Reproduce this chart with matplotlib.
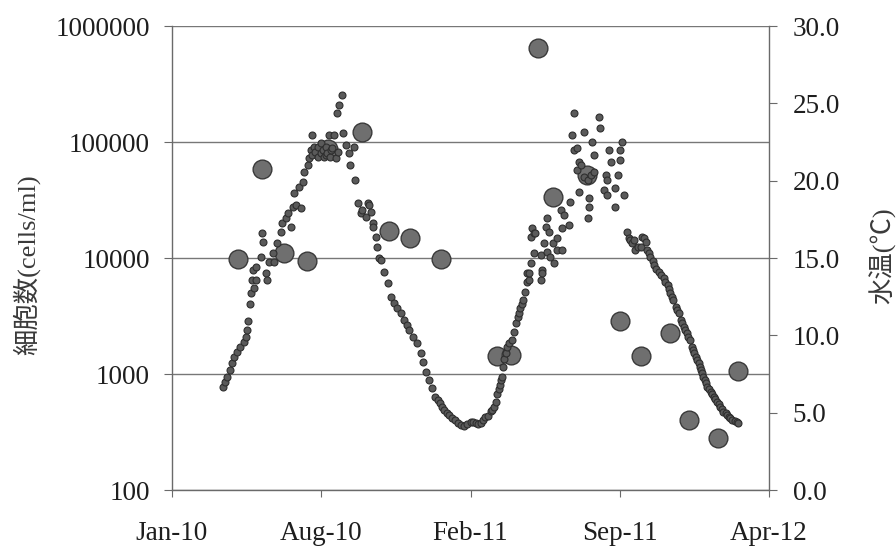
import numpy as np
import matplotlib
matplotlib.use("Agg")
import matplotlib.pyplot as plt
import matplotlib.dates as mdates
from matplotlib.ticker import NullLocator, FixedLocator

# ---------------- data ----------------
BASE_DATE = np.datetime64("2010-01-01")

# cell counts (large dots) : day offset from 2010-01-01, cells/ml
cell_day = [109, 142, 171, 202, 230, 276, 312, 340, 382,
            457, 475, 512, 531, 577, 621, 649, 688, 714, 752, 780]
cell_count = [9800, 58000, 11000, 9500, 87000, 121000, 17200, 14900, 9800,
              1440, 1450, 650000, 33700, 52000, 2860, 1440, 2240, 400, 280, 1060]

# water temperature (small dots) : day offset from 2010-01-01, deg C
temp_day = [
    89, 92, 95, 99, 101, 104, 108, 112, 117, 120,
    122, 123, 125, 127, 128, 129, 131, 133, 134, 140,
    142, 143, 147, 148, 151, 156, 158, 162, 167, 169,
    174, 176, 180, 183, 185, 187, 191, 194, 196, 198,
    203, 204, 207, 208, 209, 211, 212, 216, 217, 220,
    221, 223, 225, 227, 228, 229, 232, 233, 234, 236,
    238, 241, 242, 243, 245, 249, 250, 254, 258, 259,
    265, 266, 270, 274, 276, 281, 283, 285, 287, 290,
    291, 294, 296, 299, 301, 305, 310, 314, 318, 322,
    328, 332, 336, 339, 344, 349, 354, 357, 361, 366,
    370, 374, 377, 380, 383, 386, 389, 392, 396, 400,
    404, 408, 412, 416, 421, 425, 428, 431, 435, 438,
    441, 445, 448, 450, 452, 455, 457, 459, 460, 462,
    463, 464, 466, 468, 470, 473, 477, 479, 482, 484,
    486, 488, 490, 492, 494, 497, 497, 499, 499, 502,
    502, 504, 506, 506, 508, 515, 515, 517, 517, 520,
    522, 524, 524, 526, 528, 531, 533, 537, 537, 542,
    544, 544, 546, 553, 555, 557, 560, 560, 564, 564,
    566, 566, 569, 573, 573, 578, 578, 580, 580, 582,
    584, 586, 586, 593, 594, 600, 602, 604, 604, 606,
    609, 615, 615, 618, 621, 622, 624, 627, 631, 633,
    635, 638, 640, 642, 645, 649, 651, 653, 656, 658,
    660, 662, 665, 667, 670, 673, 676, 680, 682, 685,
    687, 689, 691, 693, 696, 698, 700, 703, 705, 707,
    709, 711, 713, 715, 718, 719, 721, 723, 725, 727,
    728, 730, 731, 733, 735, 736, 738, 741, 743, 745,
    747, 749, 751, 754, 756, 758, 760, 763, 765, 767,
    769, 772, 775, 778, 780,
]
temp_c = [
    6.68, 7.00, 7.33, 7.76, 8.19, 8.62, 8.94, 9.27, 9.59, 9.91,
    10.34, 10.95, 12.02, 12.71, 13.57, 14.22, 13.04, 13.57, 14.44, 15.08,
    16.59, 16.05, 14.01, 13.57, 14.76, 15.30, 14.76, 15.95, 16.70, 17.24,
    17.56, 17.89, 17.02, 18.31, 19.18, 18.42, 19.61, 18.21, 19.93, 20.58,
    21.01, 21.44, 21.98, 22.95, 21.65, 22.19, 21.87, 22.19, 21.55, 21.76,
    22.41, 21.98, 21.55, 21.66, 22.19, 21.76, 22.95, 21.55, 21.98, 22.09,
    22.95, 21.44, 24.35, 21.87, 24.89, 25.53, 23.06, 22.30, 21.76, 21.01,
    22.19, 20.04, 18.53, 17.89, 18.10, 17.67, 18.53, 18.42, 17.99, 17.24,
    17.02, 16.38, 15.73, 14.98, 14.87, 14.11, 13.36, 12.50, 12.11, 11.74,
    11.42, 10.99, 10.66, 10.34, 9.91, 9.48, 8.83, 8.30, 7.65, 7.11,
    6.57, 6.03, 5.82, 5.60, 5.38, 5.17, 5.00, 4.85, 4.68, 4.52,
    4.35, 4.20, 4.14, 4.25, 4.42, 4.38, 4.35, 4.27, 4.30, 4.52,
    4.74, 4.80, 5.10, 5.17, 5.39, 5.71, 6.20, 6.50, 6.79, 7.10,
    7.33, 7.97, 8.50, 8.83, 9.27, 9.48, 9.70, 10.23, 10.77, 11.20,
    11.45, 11.74, 12.00, 12.28, 12.82, 13.47, 14.01, 13.57, 14.01, 16.38,
    14.65, 16.91, 16.59, 15.30, 16.59, 15.19, 13.57, 14.22, 14.01, 15.94,
    17.02, 17.56, 15.41, 16.70, 15.08, 15.94, 14.65, 16.27, 15.51, 18.10,
    15.51, 16.91, 17.78, 17.13, 18.64, 22.95, 24.35, 21.98, 22.09, 20.69,
    21.22, 19.28, 21.01, 23.16, 20.25, 20.04, 17.56, 18.85, 18.31, 20.36,
    22.52, 21.65, 20.58, 24.13, 23.38, 19.39, 20.36, 20.04, 19.07, 21.98,
    21.22, 19.50, 18.31, 20.36, 21.33, 21.98, 22.52, 19.07, 16.70, 16.27,
    16.16, 15.94, 16.16, 15.51, 15.73, 15.73, 16.38, 16.27, 16.05, 15.51,
    15.30, 15.08, 14.80, 14.54, 14.30, 14.11, 13.90, 13.68, 13.45, 13.25,
    13.00, 12.71, 12.50, 12.28, 11.85, 11.63, 11.42, 10.99, 10.78, 10.56,
    10.35, 10.13, 9.92, 9.70, 9.27, 9.05, 8.83, 8.62, 8.40, 8.18,
    7.97, 7.75, 7.54, 7.32, 7.11, 6.90, 6.68, 6.52, 6.36, 6.20,
    6.03, 5.87, 5.71, 5.55, 5.39, 5.22, 5.06, 4.95, 4.85, 4.74,
    4.63, 4.55, 4.48, 4.40, 4.31,
]

x_limits = ["2010-01-22", "2012-04-01"]
x_tick_dates = ["2010-01-22", "2010-08-10", "2011-02-26", "2011-09-14", "2012-04-01"]
x_tick_labels = ["Jan-10", "Aug-10", "Feb-11", "Sep-11", "Apr-12"]
cell_ticks = [100, 1000, 10000, 100000, 1000000]
cell_tick_labels = ["100", "1000", "10000", "100000", "1000000"]
temp_ticks = [0, 5, 10, 15, 20, 25, 30]
temp_tick_labels = ["0.0", "5.0", "10.0", "15.0", "20.0", "25.0", "30.0"]
left_label = "細胞数(cells/ml)"
right_label = "水温(℃)"

# ---------------- plot ----------------
FONT = ["Liberation Serif", "Noto Sans CJK JP", "DejaVu Sans"]
plt.rcParams["font.family"] = FONT

cell_dates = BASE_DATE + np.array(cell_day).astype("timedelta64[D]")
temp_dates = BASE_DATE + np.array(temp_day).astype("timedelta64[D]")

W, H = 896, 547
fig = plt.figure(figsize=(W / 100, H / 100), dpi=100)
ax = fig.add_axes([172 / W, 1 - 490 / H, (769 - 172) / W, (490 - 26) / H])

ax.set_yscale("log")
ax.set_ylim(100, 1e6)
ax.set_xlim(np.datetime64(x_limits[0]), np.datetime64(x_limits[1]))

ax2 = ax.twinx()
ax2.set_ylim(0, 30)

grey_spine = "#6a6a6a"
ax.yaxis.grid(True, color="#777777", lw=1.0, ls="-")
ax.set_axisbelow(True)

ax.plot(cell_dates, cell_count, "o", ms=13.5, mfc="#6f6f6f", mec="#3a3a3a",
        mew=1.0, ls="none", zorder=3)
ax2.plot(temp_dates, temp_c, "o", ms=5.0, mfc="#5a5a5a", mec="#2e2e2e",
         mew=0.8, ls="none", zorder=3)

# ticks
ax.xaxis.set_major_locator(FixedLocator(mdates.date2num(np.array(x_tick_dates, dtype="datetime64[D]"))))
ax.set_xticklabels(x_tick_labels)
ax.yaxis.set_major_locator(FixedLocator(cell_ticks))
ax.yaxis.set_minor_locator(NullLocator())
ax.set_yticklabels(cell_tick_labels)
ax2.set_yticks(temp_ticks)
ax2.set_yticklabels(temp_tick_labels)

ax.tick_params(axis="y", direction="out", length=6, width=0.8, color=grey_spine,
               pad=10, labelsize=19.5, labelcolor="#1e1e1e")
ax.tick_params(axis="x", direction="out", length=5, width=0.8, color=grey_spine,
               pad=17, labelsize=19.5, labelcolor="#1e1e1e")
ax2.tick_params(axis="y", direction="out", length=6, width=0.8, color=grey_spine,
                pad=11, labelsize=19.5, labelcolor="#1e1e1e")

for s in ["top"]:
    ax.spines[s].set_visible(False)
    ax2.spines[s].set_visible(False)
ax.spines["right"].set_visible(False)
ax2.spines["left"].set_visible(False)
ax2.spines["bottom"].set_visible(False)
for sp in [ax.spines["left"], ax.spines["bottom"], ax2.spines["right"]]:
    sp.set_color(grey_spine)
    sp.set_linewidth(1.0)

ax.set_ylabel(left_label, fontsize=19, color="#3a3a3a", family=FONT)
ax.yaxis.set_label_coords(-0.221, 0.485)
ax2.set_ylabel(right_label, fontsize=19, color="#3a3a3a", family=FONT)
ax2.yaxis.set_label_coords(1.167, 0.505)

fig.savefig("out.png", dpi=100)
